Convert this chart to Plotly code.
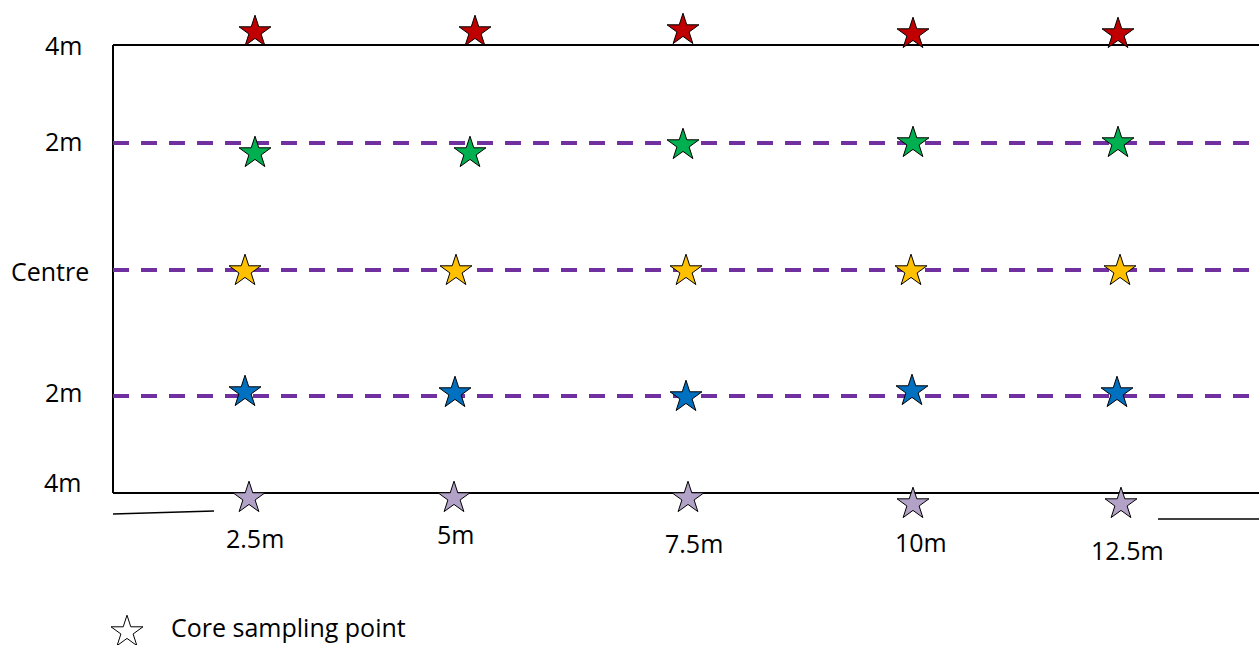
import plotly.graph_objects as go

# ---- data (diagram units: horizontal / vertical position on the sketch) ----
row_names = ["4m top", "2m top", "Centre", "2m bottom", "4m bottom"]
row_colors = ["#C00000", "#00B050", "#FFC000", "#0070C0", "#B3A2C7"]
star_x = [
    [255, 475, 683, 913, 1118],
    [255, 470, 683, 913, 1118],
    [245, 456, 686, 911, 1120],
    [245, 455, 686, 912, 1117],
    [249, 454, 688, 913, 1121],
]
star_y = [
    [32, 32, 30, 34, 34],
    [153, 153, 145, 143, 143],
    [271, 271, 271, 271, 271],
    [392, 393, 397, 391, 393],
    [498, 498, 498, 504, 504],
]
left_labels = ["4m", "2m", "Centre", "2m", "4m"]
left_label_y = [45, 141, 271, 392, 482]
left_label_x = [63, 63, 50, 63, 62]
bottom_labels = ["2.5m", "5m", "7.5m", "10m", "12.5m"]
bottom_label_x = [255, 455, 694, 921, 1127]
bottom_label_y = [538, 534, 543, 542, 550]
frame_left, frame_right, frame_top, frame_bottom = 113, 1259, 45, 493
dashed_y = [143, 270, 396]
legend_text = "Core sampling point"

W, H = 1259, 645
FONT = "Open Sans"
FS = 25

fig = go.Figure()

# frame
shapes = [
    dict(type="line", x0=frame_left, x1=frame_right + 5, y0=frame_top, y1=frame_top),
    dict(type="line", x0=frame_left, x1=frame_left, y0=frame_top, y1=frame_bottom),
    dict(type="line", x0=frame_left, x1=frame_right + 5, y0=frame_bottom, y1=frame_bottom),
]
for s in shapes:
    s.update(xref="x", yref="y", layer="below", line=dict(color="black", width=2))
# dashed lines
for y in dashed_y:
    shapes.append(dict(type="line", xref="x", yref="y", layer="below",
                       x0=frame_left, x1=frame_right + 5, y0=y, y1=y,
                       line=dict(color="#7030A0", width=4, dash="16px,12px")))
# small scale lines under the frame
shapes.append(dict(type="line", xref="x", yref="y", x0=113, x1=214, y0=514, y1=511,
                   line=dict(color="black", width=1.5)))
shapes.append(dict(type="line", xref="x", yref="y", x0=1158, x1=1264, y0=519, y1=519,
                   line=dict(color="black", width=1.5)))

for name, col, xs, ys in zip(row_names, row_colors, star_x, star_y):
    fig.add_trace(go.Scatter(
        x=xs, y=ys, mode="markers", name=name,
        marker=dict(symbol="star", size=24, color=col,
                    line=dict(color="black", width=1)),
        hoverinfo="skip", showlegend=False))

# legend star
fig.add_trace(go.Scatter(
    x=[127], y=[632], mode="markers",
    marker=dict(symbol="star", size=24, color="white",
                line=dict(color="black", width=1)),
    hoverinfo="skip", showlegend=False))

ann = []
for t, x, y in zip(left_labels, left_label_x, left_label_y):
    ann.append(dict(text=t, x=x, y=y, xref="x", yref="y", showarrow=False,
                    xanchor="center", yanchor="middle",
                    font=dict(family=FONT, size=FS, color="black")))
for t, x, y in zip(bottom_labels, bottom_label_x, bottom_label_y):
    ann.append(dict(text=t, x=x, y=y, xref="x", yref="y", showarrow=False,
                    xanchor="center", yanchor="middle",
                    font=dict(family=FONT, size=FS, color="black")))
ann.append(dict(text=legend_text, x=170, y=H, xref="x", yref="y", showarrow=False,
                xanchor="left", yanchor="bottom", borderpad=0,
                font=dict(family=FONT, size=FS, color="black")))

fig.update_layout(
    width=W, height=H, autosize=False,
    margin=dict(l=0, r=0, t=0, b=0),
    paper_bgcolor="white", plot_bgcolor="white",
    shapes=shapes, annotations=ann,
    xaxis=dict(range=[0, W], visible=False, fixedrange=True),
    yaxis=dict(range=[H, 0], visible=False, fixedrange=True),
)

fig.write_html("out.html", config={"displayModeBar": False},
               post_script="document.body.style.margin='0';document.body.style.overflow='hidden';")
